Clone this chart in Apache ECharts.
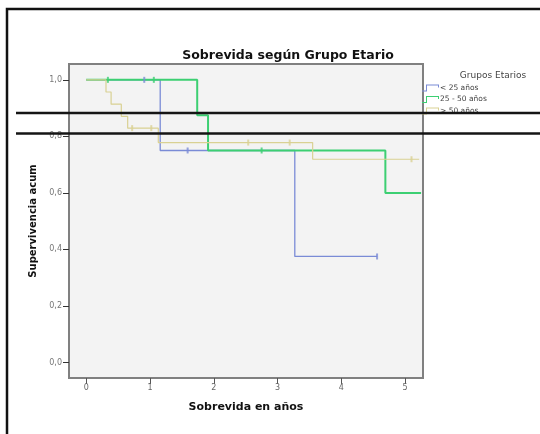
<!DOCTYPE html>
<html>
<head>
<meta charset="utf-8">
<script src="https://cdn.jsdelivr.net/npm/echarts@6/dist/echarts.min.js"></script>
<style>
  body { margin: 0; background: #fff; }
  #chart { width: 540px; height: 434px; }
</style>
</head>
<body>
<div id="chart"></div>
<script>
// curvas de Kaplan-Meier: [años, supervivencia]
var grupos = ['< 25 años', '25 - 50 años', '> 50 años'];
var colores = ['#7a8bd6', '#3ccf72', '#d9d193'];

var menor25 = [[0, 1], [1.16, 0.75], [3.27, 0.375], [4.56, 0.375]];
var entre25y50 = [[0, 1], [1.74, 0.875], [1.91, 0.75], [4.69, 0.6], [5.25, 0.6]];
var mayor50 = [[0, 1], [0.31, 0.957], [0.39, 0.914], [0.55, 0.871], [0.65, 0.829],
  [1.13, 0.778], [3.55, 0.719], [5.22, 0.719]];

// casos censurados
var censMenor25 = [[0.91, 1], [1.59, 0.75], [4.56, 0.375]];
var censEntre = [[0.34, 1], [1.06, 1], [2.75, 0.75]];
var censMayor50 = [[0.72, 0.829], [1.02, 0.829], [2.54, 0.778], [3.19, 0.778], [5.10, 0.719]];

var xTicks = [0, 1, 2, 3, 4, 5];
var yTicks = [0, 0.2, 0.4, 0.6, 0.8, 1.0];

var curvas = [menor25, entre25y50, mayor50];
var censuras = [censMenor25, censEntre, censMayor50];
var anchos = [1.3, 2, 1.2];

var stepIcon = 'path://M0,6H4V0H17V3H16V1H5V7H0Z';
var font = 'DejaVu Sans';

var series = [];
for (var i = 0; i < curvas.length; i++) {
  series.push({
    name: grupos[i],
    type: 'line',
    step: 'end',
    symbol: 'none',
    data: curvas[i],
    color: colores[i],
    lineStyle: { color: colores[i], width: anchos[i] },
    z: 2 + i
  });
}
for (var j = 0; j < censuras.length; j++) {
  series.push({
    name: grupos[j] + ' cens',
    type: 'scatter',
    symbol: 'rect',
    symbolSize: [2, 6],
    data: censuras[j],
    itemStyle: { color: colores[j] },
    z: 6
  });
}

var myChart = echarts.init(document.getElementById('chart'));
var option = {
  backgroundColor: '#ffffff',
  animation: false,
  textStyle: { fontFamily: font },
  title: [
    {
      text: 'Sobrevida según Grupo Etario',
      left: 283, top: 44, textAlign: 'center',
      textStyle: { fontFamily: font, fontSize: 12.5, fontWeight: 'bold', color: '#111' }
    },
    {
      text: 'Grupos Etarios',
      left: 488, top: 66, textAlign: 'center',
      textStyle: { fontFamily: font, fontSize: 9, fontWeight: 'normal', color: '#444' }
    }
  ],
  legend: {
    orient: 'vertical',
    left: 422,
    top: 84,
    itemWidth: 17,
    itemHeight: 7,
    itemGap: 3.5,
    padding: 0,
    data: grupos.map(function (g) { return { name: g, icon: stepIcon }; }),
    textStyle: { fontFamily: font, fontSize: 7.5, color: '#444', padding: [0, 0, 0, -4] }
  },
  grid: {
    left: 69, top: 64, right: 117, bottom: 56,
    show: true,
    backgroundColor: '#f3f3f3',
    borderColor: '#808080',
    borderWidth: 2
  },
  xAxis: {
    type: 'value',
    min: -0.27, max: 5.28,
    name: 'Sobrevida en años',
    nameLocation: 'middle',
    nameGap: 24,
    nameTextStyle: { fontFamily: font, fontSize: 11, fontWeight: 'bold', color: '#111' },
    axisLine: { show: false, onZero: false },
    splitLine: { show: false },
    axisTick: { show: true, customValues: xTicks, length: 6, lineStyle: { color: '#555' } },
    axisLabel: { customValues: xTicks, fontSize: 8, color: '#666', margin: 6 }
  },
  yAxis: {
    type: 'value',
    min: -0.055, max: 1.056,
    name: 'Supervivencia acum',
    nameLocation: 'middle',
    nameGap: 31,
    nameTextStyle: { fontFamily: font, fontSize: 10, fontWeight: 'bold', color: '#111' },
    axisLine: { show: false, onZero: false },
    splitLine: { show: false },
    axisTick: { show: true, customValues: yTicks, length: 6, lineStyle: { color: '#333' } },
    axisLabel: {
      customValues: yTicks, fontSize: 8, color: '#777', margin: 7,
      formatter: function (v) { return v.toFixed(1).replace('.', ','); }
    }
  },
  graphic: [
    // marco exterior
    { type: 'rect', shape: { x: 7, y: 9, width: 700, height: 600 },
      style: { fill: 'none', stroke: '#111', lineWidth: 2.5 }, z: 100 },
    // las dos lineas negras horizontales de la imagen
    { type: 'line', shape: { x1: 16, y1: 113, x2: 540, y2: 113 },
      style: { stroke: '#151515', lineWidth: 2.5 }, z: 100 },
    { type: 'line', shape: { x1: 16, y1: 133.5, x2: 540, y2: 133.5 },
      style: { stroke: '#151515', lineWidth: 2.5 }, z: 100 }
  ],
  series: series
};
myChart.setOption(option);
</script>
</body>
</html>
